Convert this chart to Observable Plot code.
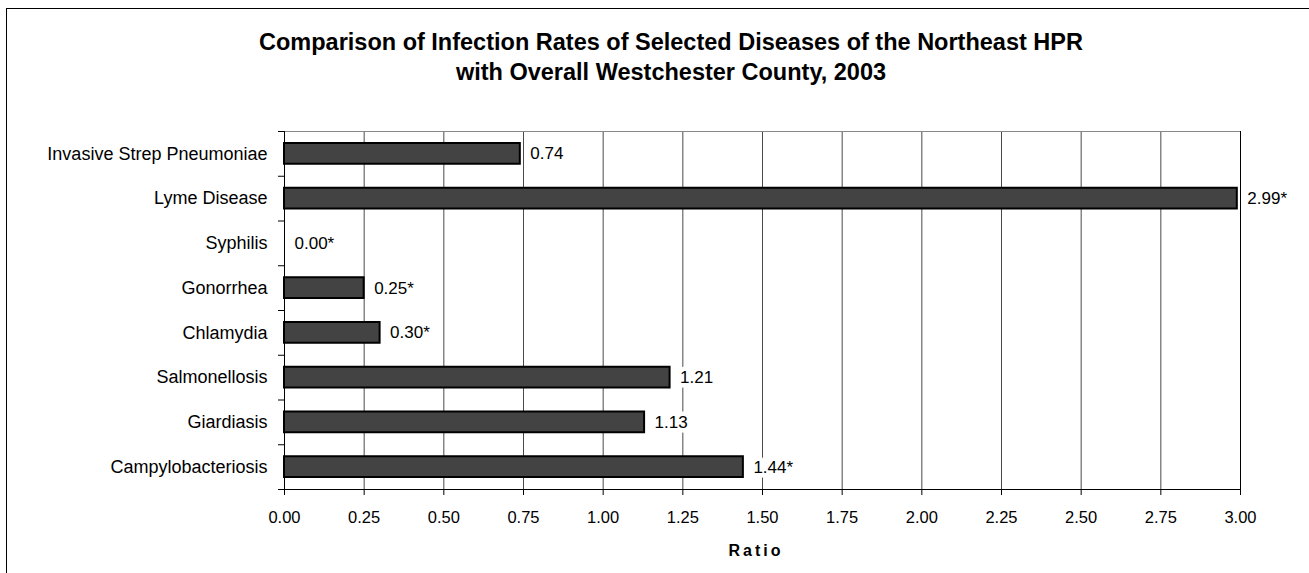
<!DOCTYPE html>
<html>
<head>
<meta charset="utf-8">
<script src="https://cdn.jsdelivr.net/npm/d3@7"></script>
<script src="https://cdn.jsdelivr.net/npm/@observablehq/plot@0.6"></script>
<style>
  html, body { margin: 0; padding: 0; background: #fff; overflow: hidden; }
  #wrap { position: relative; width: 1309px; height: 573px; overflow: hidden; background: #fff;
          font-family: "Liberation Sans", Arial, sans-serif; color: #000; }
  #border { position: absolute; left: 6px; top: 8px; width: 1400px; height: 700px;
            border: 1.5px solid #000; box-sizing: border-box; pointer-events: none; z-index: 3; }
  #title { position: absolute; left: 171px; width: 1000px; top: 27px; text-align: center;
           font-weight: bold; font-size: 23.5px; line-height: 30px; z-index: 2; }
  #xlabel { position: absolute; left: 656px; width: 200px; top: 541px; text-align: center;
            font-weight: bold; font-size: 16px; line-height: 20px; letter-spacing: 3px; z-index: 2; }
  #chart { position: absolute; left: 0; top: 0; z-index: 1; }
</style>
</head>
<body>
<div id="wrap">
  <div id="border"></div>
  <div id="title">Comparison of Infection Rates of Selected Diseases of the Northeast HPR<br>with Overall Westchester County, 2003</div>
  <div id="chart"></div>
  <div id="xlabel">Ratio</div>
</div>
<script>
const categories = [
  "Invasive Strep Pneumoniae",
  "Lyme Disease",
  "Syphilis",
  "Gonorrhea",
  "Chlamydia",
  "Salmonellosis",
  "Giardiasis",
  "Campylobacteriosis"
];
const values = [0.74, 2.99, 0.00, 0.25, 0.30, 1.21, 1.13, 1.44];
const significant = [false, true, true, true, true, false, false, true];
const xTicks = [0, 0.25, 0.5, 0.75, 1, 1.25, 1.5, 1.75, 2, 2.25, 2.5, 2.75, 3];

const fmt = d3.format(".2f");
const data = categories.map((name, i) => ({
  name, i, value: values[i],
  label: fmt(values[i]) + (significant[i] ? "*" : "")
}));
const boundaries = d3.range(0, categories.length + 1);

const chart = Plot.plot({
  width: 1309,
  height: 573,
  marginLeft: 284,
  marginRight: 69,
  marginTop: 131,
  marginBottom: 84,
  style: { fontFamily: '"Liberation Sans", Arial, sans-serif', fontSize: "16.5px", background: "transparent", color: "#000" },
  x: { domain: [0, 3] },
  y: { domain: [0, categories.length], reverse: true },
  marks: [
    Plot.ruleX(xTicks.filter(t => t > 0 && t < 3), { stroke: "#4a4a4a", strokeWidth: 1 }),
    Plot.ruleX([3], { stroke: "#000", strokeWidth: 1 }),
    Plot.ruleY([0], { stroke: "#888", strokeWidth: 1 }),
    Plot.rect(data.filter(d => d.value > 0), {
      x1: 0, x2: "value", y1: "i", y2: d => d.i + 1,
      insetTop: 12, insetBottom: 12,
      fill: "#434343", stroke: "#000", strokeWidth: 2
    }),
    Plot.ruleX([0], { stroke: "#000", strokeWidth: 1 }),
    Plot.ruleY([categories.length], { stroke: "#000", strokeWidth: 1 }),
    Plot.axisX({ ticks: xTicks, tickFormat: fmt, tickSize: 6, tickPadding: 16, fontSize: 16.5, label: null, stroke: "#000" }),
    Plot.axisY({ ticks: boundaries, tickFormat: () => "", tickSize: 6, label: null, stroke: "#000" }),
    Plot.axisY({ ticks: data.map(d => d.i + 0.5), tickFormat: t => categories[Math.floor(t)], tickSize: 0, tickPadding: 17, fontSize: 18, label: null }),
    Plot.text(data, {
      x: "value", y: d => d.i + 0.5, text: "label",
      dx: 10, textAnchor: "start", fontSize: 17,
      fill: "#000", stroke: "#fff", strokeWidth: 9, paintOrder: "stroke"
    })
  ]
});
document.getElementById("chart").appendChild(chart);
</script>
</body>
</html>
